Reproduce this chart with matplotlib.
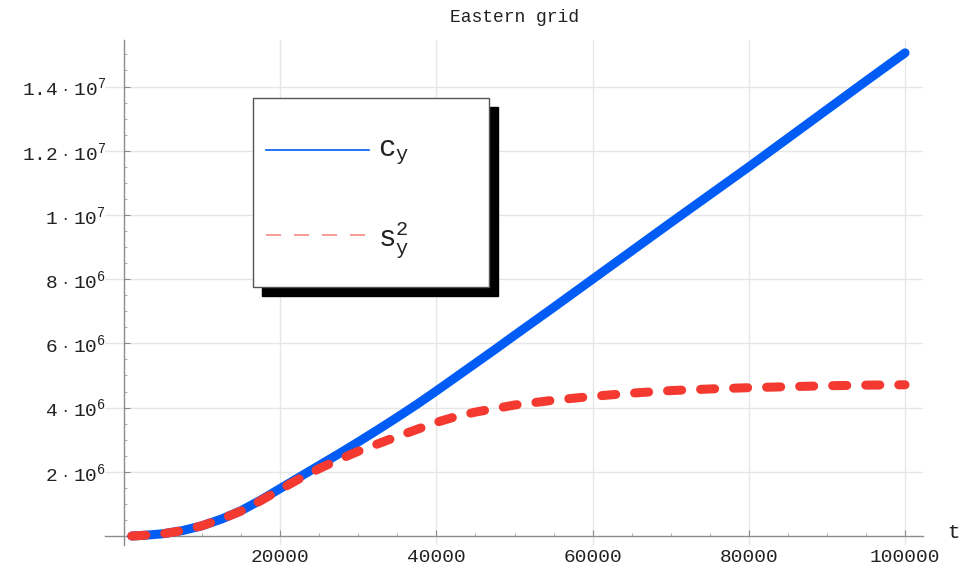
import matplotlib
matplotlib.use('Agg')
import matplotlib.pyplot as plt
from matplotlib.patches import Rectangle
from matplotlib.lines import Line2D
from matplotlib.ticker import FixedLocator, MultipleLocator

plt.rcParams['font.family'] = ['Liberation Mono', 'DejaVu Sans']
plt.rcParams['mathtext.fontset'] = 'custom'
plt.rcParams['mathtext.rm'] = 'Liberation Mono'
plt.rcParams['mathtext.it'] = 'Liberation Mono'
plt.rcParams['mathtext.bf'] = 'Liberation Mono'

# ---------------- data ----------------
t = [1000, 2500, 5000, 7500, 10000, 12500, 15000, 17500, 20000, 22500, 25000,
     27500, 30000, 32500, 35000, 37500, 40000, 42500, 45000, 47500, 50000,
     55000, 60000, 65000, 70000, 75000, 80000, 85000, 90000, 95000, 100000]
# values in units of 1e6
c_y = [0.0, 0.02, 0.07, 0.17, 0.32, 0.53, 0.79, 1.12, 1.48, 1.84, 2.20,
       2.56, 2.93, 3.31, 3.70, 4.10, 4.52, 4.95, 5.38, 5.81, 6.25,
       7.12, 8.00, 8.88, 9.76, 10.63, 11.50, 12.39, 13.28, 14.17, 15.05]
s_y2 = [0.0, 0.02, 0.07, 0.17, 0.32, 0.53, 0.78, 1.10, 1.45, 1.79, 2.10,
        2.38, 2.64, 2.87, 3.10, 3.32, 3.54, 3.72, 3.86, 3.97, 4.08,
        4.23, 4.35, 4.45, 4.53, 4.58, 4.62, 4.65, 4.68, 4.70, 4.71]
unit = 1e6

x_ticks = [20000, 40000, 60000, 80000, 100000]
x_tick_labels = ['20000', '40000', '60000', '80000', '100000']
y_ticks = [2e6, 4e6, 6e6, 8e6, 1e7, 1.2e7, 1.4e7]
y_tick_labels = [r'$2\;\cdot\;10^{6}$', r'$4\;\cdot\;10^{6}$', r'$6\;\cdot\;10^{6}$',
                 r'$8\;\cdot\;10^{6}$', r'$1\;\cdot\;10^{7}$', r'$1.2\;\cdot\;10^{7}$',
                 r'$1.4\;\cdot\;10^{7}$']
title = 'Eastern grid'
x_label = 't'
legend_labels = [r'$\mathrm{c}_{\mathrm{y}}$', r'$\mathrm{s}_{\mathrm{y}}^{2}$']

BLUE = '#005cf4'
RED = '#f43a30'

W, H = 967, 566
fig = plt.figure(figsize=(W / 100, H / 100), dpi=100)
ax = fig.add_axes([105 / W, 21 / H, 818 / W, 505 / H])


def fp(x, y):
    return (x / W, 1 - y / H)


ax.plot(t, [v * unit for v in c_y], color=BLUE, lw=6.5,
        solid_capstyle='round', solid_joinstyle='round', zorder=3)
ax.plot(t, [v * unit for v in s_y2], color=RED, lw=6.5,
        dashes=(1.56, 2.1), dash_capstyle='round', zorder=4)

ax.set_xlim(-2430, 102300)
ax.set_ylim(-0.28e6, 15.45e6)

for s in ['top', 'right']:
    ax.spines[s].set_visible(False)
ax.spines['left'].set_position(('data', 0))
ax.spines['bottom'].set_position(('data', 0))
for s in ['left', 'bottom']:
    ax.spines[s].set_color('#8c8c8c')
    ax.spines[s].set_linewidth(1.0)

ax.xaxis.set_major_locator(FixedLocator(x_ticks))
ax.set_xticklabels(x_tick_labels)
ax.yaxis.set_major_locator(FixedLocator(y_ticks))
ax.set_yticklabels(y_tick_labels)
ax.xaxis.set_minor_locator(MultipleLocator(5000))
ax.yaxis.set_minor_locator(MultipleLocator(0.5e6))

ax.tick_params(axis='both', which='major', direction='in', length=4,
               width=0.8, color='#8c8c8c', labelsize=14, labelcolor='#222222')
ax.tick_params(axis='both', which='minor', direction='in', length=2.5,
               width=0.6, color='#a0a0a0')
ax.tick_params(axis='x', which='major', pad=9)
ax.tick_params(axis='y', which='major', pad=13)

ax.grid(True, which='major', color='#e6e6e6', lw=1.0, zorder=0)
ax.set_axisbelow(True)

fig.text(*fp(514, 18), title, fontsize=13, ha='center', va='center', color='#222222')
fig.text(*fp(953, 532), x_label, fontsize=15, ha='center', va='center', color='#222222')

# ---- manual legend with solid black shadow ----
lx0, ly0, lx1, ly1 = 253, 98, 489, 287
sh = 9
fig.add_artist(Rectangle(fp(lx0 + sh, ly1 + sh), (lx1 - lx0) / W, (ly1 - ly0) / H,
                         transform=fig.transFigure, facecolor='black',
                         edgecolor='black', zorder=5))
fig.add_artist(Rectangle(fp(lx0, ly1), (lx1 - lx0) / W, (ly1 - ly0) / H,
                         transform=fig.transFigure, facecolor='white',
                         edgecolor='#555555', lw=1.0, zorder=6))
fig.add_artist(Line2D([266 / W, 369 / W], [1 - 150 / H, 1 - 150 / H],
                      transform=fig.transFigure, color=BLUE, lw=1.2, zorder=7))
fig.add_artist(Line2D([266 / W, 368 / W], [1 - 235 / H, 1 - 235 / H],
                      transform=fig.transFigure, color='#f58a85', lw=1.2,
                      dashes=(9.0, 7.8), zorder=7))
fig.text(*fp(378, 156), legend_labels[0], fontsize=21, ha='left', va='baseline',
         zorder=8, color='#222222')
fig.text(*fp(378, 246), legend_labels[1], fontsize=21, ha='left', va='baseline',
         zorder=8, color='#222222')

fig.savefig('out.png', dpi=100)
